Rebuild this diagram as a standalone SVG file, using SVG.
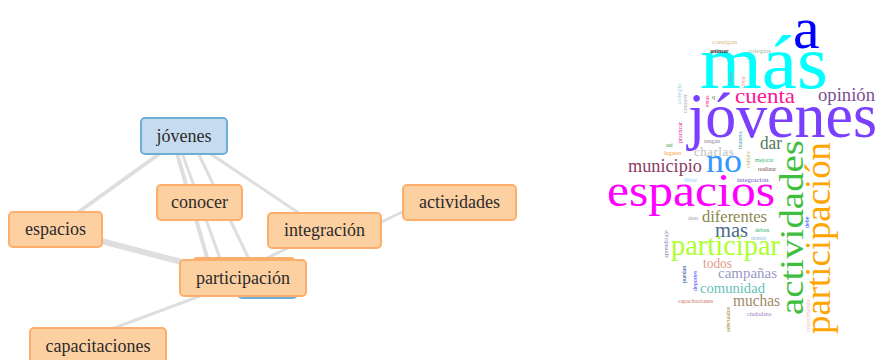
<svg xmlns="http://www.w3.org/2000/svg" width="881" height="360" viewBox="0 0 881 360">
<style>
.n rect{stroke-width:2}
.o rect{fill:#fdd0a2;stroke:#fdae6b}
.b rect{fill:#c6dbef;stroke:#6baed6}
.n text{font-family:"Liberation Serif",serif;font-size:18px;fill:#2b2b2b;text-anchor:middle}
.e line{stroke:#dedede;stroke-linecap:round}
.w text{font-family:"Liberation Serif",serif}
</style>
<rect width="881" height="360" fill="#ffffff"/>
<g id="connectors" class="e">
<line x1="184" y1="136" x2="55" y2="229" stroke-width="4"/>
<line x1="184" y1="136" x2="324" y2="230" stroke-width="3"/>
<line x1="172" y1="136" x2="213" y2="278" stroke-width="4"/>
<line x1="176" y1="136" x2="227" y2="278" stroke-width="3"/>
<line x1="190" y1="136" x2="258" y2="278" stroke-width="3"/>
<line x1="55" y1="229" x2="243" y2="278" stroke-width="6"/>
<line x1="324" y1="230" x2="243" y2="270" stroke-width="3"/>
<line x1="360" y1="232" x2="430" y2="199" stroke-width="3"/>
<line x1="243" y1="280" x2="90" y2="337" stroke-width="3"/>
</g>
<g id="node-hidden-blue" class="n b"><rect x="238" y="262" width="59" height="36" rx="4"/></g>
<g id="node-hidden-orange" class="n o"><rect x="193" y="258" width="102" height="36" rx="4"/></g>
<g id="node-jovenes" class="n b"><rect x="141" y="118" width="86" height="36" rx="4"/><text x="184" y="142">jóvenes</text></g>
<g id="node-conocer" class="n o"><rect x="157" y="185" width="85" height="35" rx="4"/><text x="199.5" y="208">conocer</text></g>
<g id="node-espacios" class="n o"><rect x="9" y="212" width="93" height="35" rx="4"/><text x="55.5" y="235">espacios</text></g>
<g id="node-integracion" class="n o"><rect x="268" y="213" width="113" height="35" rx="4"/><text x="324.5" y="236">integración</text></g>
<g id="node-actividades" class="n o"><rect x="403" y="185" width="113" height="35" rx="4"/><text x="459.5" y="208">actividades</text></g>
<g id="node-participacion" class="n o"><rect x="180" y="260" width="126" height="36" rx="4"/><text x="243" y="284">participación</text></g>
<g id="node-capacitaciones" class="n o"><rect x="30" y="328" width="136" height="36" rx="4"/><text x="98" y="352">capacitaciones</text></g>
<g id="wordcloud" class="w">
<text x="793" y="48" font-size="60" fill="#0000ff">a</text>
<text x="700" y="88" font-size="76" fill="#00ffff" textLength="128" lengthAdjust="spacingAndGlyphs">más</text>
<text x="688" y="137" font-size="64" fill="#7b3fff" textLength="189" lengthAdjust="spacingAndGlyphs">jóvenes</text>
<text x="735" y="103" font-size="22" fill="#ff1493" textLength="60" lengthAdjust="spacingAndGlyphs">cuenta</text>
<text x="818" y="101" font-size="18" fill="#7d4e8f" textLength="57" lengthAdjust="spacingAndGlyphs">opinión</text>
<text x="712" y="44" font-size="7" fill="#deb887">consigan</text>
<text x="710" y="53" font-size="6" fill="#333333" font-weight="bold">animar</text>
<text x="748" y="53" font-size="7" fill="#9fb09f">colegios</text>
<text transform="translate(733,85) rotate(-90)" font-size="6" fill="#a0a0a0">cosas</text>
<text transform="translate(745,88) rotate(-90)" font-size="6" fill="#f4a090">crear</text>
<text transform="translate(681,104) rotate(-90)" font-size="7" fill="#9ecae1">colegio</text>
<text transform="translate(687,113) rotate(-90)" font-size="6" fill="#a8a8a8">conocer</text>
<text transform="translate(709,107) rotate(-90)" font-size="6" fill="#ff1493">estas</text>
<text x="712" y="99" font-size="6" fill="#2e7d32">q</text>
<text transform="translate(682,143) rotate(-90)" font-size="6" fill="#e0208f">practicar</text>
<text x="666" y="147" font-size="6" fill="#3a9a3a">así</text>
<text x="664" y="155" font-size="6" fill="#ffa030">lugares</text>
<text x="704" y="143" font-size="6" fill="#8a7fa0">tengan</text>
<text x="694" y="156" font-size="13" fill="#bdbdbd" letter-spacing="0.5">charlas</text>
<text transform="translate(742,149) rotate(-90)" font-size="6" fill="#4a9aa8">manera</text>
<text transform="translate(750,168) rotate(-90)" font-size="6" fill="#bdb76b">cultura</text>
<text x="755" y="162" font-size="6" fill="#3cb371">mejorar</text>
<text x="758" y="171" font-size="6" fill="#6b4a4a">realizar</text>
<text x="760" y="149" font-size="18" fill="#557755" textLength="22" lengthAdjust="spacingAndGlyphs">dar</text>
<text x="706" y="172" font-size="33" fill="#3399ff" textLength="36" lengthAdjust="spacingAndGlyphs">no</text>
<text x="628" y="172" font-size="18" fill="#8b3a62" textLength="74" lengthAdjust="spacingAndGlyphs">municipio</text>
<text x="684" y="182" font-size="7" fill="#87cefa">libre</text>
<text x="737" y="182" font-size="7" fill="#6a5acd">integración</text>
<text x="607" y="206" font-size="46" fill="#ff00ff" textLength="168" lengthAdjust="spacingAndGlyphs">espacios</text>
<text x="688" y="220" font-size="7" fill="#a8a8a8">den</text>
<text x="702" y="222" font-size="17" fill="#8b864e" textLength="65" lengthAdjust="spacingAndGlyphs">diferentes</text>
<text x="715" y="237" font-size="20" fill="#4a6b8a" textLength="33" lengthAdjust="spacingAndGlyphs">mas</text>
<text x="755" y="232" font-size="6" fill="#3cb371">deben</text>
<text x="751" y="240" font-size="6" fill="#a0c0d8">demás</text>
<text x="671" y="255" font-size="29" fill="#adff2f" textLength="109" lengthAdjust="spacingAndGlyphs">participar</text>
<text x="703" y="268" font-size="14" fill="#e39a8a" textLength="29" lengthAdjust="spacingAndGlyphs">todos</text>
<text x="718" y="278" font-size="15" fill="#9a9ac8" textLength="59" lengthAdjust="spacingAndGlyphs">campañas</text>
<text x="700" y="293" font-size="15" fill="#66c2b8" textLength="65" lengthAdjust="spacingAndGlyphs">comunidad</text>
<text x="678" y="303" font-size="6" fill="#cd6f5f">capacitaciones</text>
<text x="733" y="306" font-size="16" fill="#a08a6a" textLength="47" lengthAdjust="spacingAndGlyphs">muchas</text>
<text x="747" y="316" font-size="6" fill="#a080c0">ciudadana</text>
<text transform="translate(730,332) rotate(-90)" font-size="6" fill="#a08030">adecuados</text>
<text transform="translate(668,258) rotate(-90)" font-size="6" fill="#9080b0">aprendizaje</text>
<text transform="translate(686,283) rotate(-90)" font-size="6" fill="#2040a0">puedan</text>
<text transform="translate(697,291) rotate(-90)" font-size="6" fill="#4040ff">deportes</text>
<text transform="translate(810,332) rotate(-90)" font-size="6" fill="#ffb6c1">conocimiento</text>
<text transform="translate(809,228) rotate(-90)" font-size="6" fill="#2040ff">debe</text>
<text transform="translate(803,315) rotate(-90)" font-size="33" fill="#3fbf3f" textLength="175" lengthAdjust="spacingAndGlyphs">actividades</text>
<text transform="translate(830,334) rotate(-90)" font-size="36" fill="#ffa500" textLength="192" lengthAdjust="spacingAndGlyphs">participación</text>
</g>
</svg>
